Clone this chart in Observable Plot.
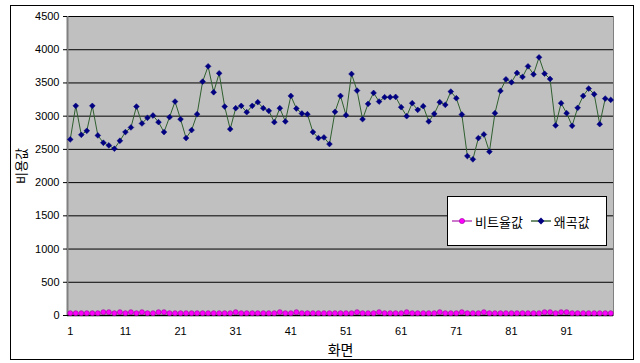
<!DOCTYPE html>
<html>
<head>
<meta charset="utf-8">
<script src="https://cdn.jsdelivr.net/npm/d3@7"></script>
<script src="https://cdn.jsdelivr.net/npm/@observablehq/plot@0.6"></script>
<style>
  body { margin: 0; background: #fff; }
  #chart { position: relative; width: 640px; height: 363px; }
  #chart svg { position: absolute; left: 0; top: 0; }
  #border { position: absolute; left: 10px; top: 5px; width: 624px; height: 355px; border: 1px solid #000; box-sizing: border-box; pointer-events: none; }
  #legend { position: absolute; left: 447px; top: 196px; width: 160px; height: 50px; box-sizing: border-box;
            background: #fff; border: 1px solid #000; display: flex; align-items: center; padding-left: 4px;
            font-family: "Noto Sans CJK KR", sans-serif; font-size: 13px; color: #000; }
  #legend .item { display: flex; align-items: center; margin-right: 8px; }
  #legend svg { position: static; margin-right: 3px; }
</style>
</head>
<body>
<div id="chart"><div id="border"></div></div>
<script>
// Frame numbers along the x axis
const frames = Array.from({length: 99}, (_, i) => i + 1);

// Distortion per frame (왜곡값)
const distortion = [
  2650, 3155, 2720, 2780, 3155, 2710, 2600, 2560, 2510, 2630,
  2760, 2830, 3145, 2890, 2975, 3010, 2910, 2760, 2985, 3220,
  2955, 2670, 2790, 3030, 3520, 3750, 3360, 3645, 3145, 2805,
  3120, 3155, 3060, 3155, 3210, 3120, 3080, 2910, 3120, 2920,
  3305, 3115, 3040, 3030, 2760, 2670, 2680, 2580, 3065, 3305,
  3015, 3635, 3385, 2955, 3185, 3350, 3220, 3285, 3285, 3290,
  3135, 3000, 3195, 3095, 3150, 2920, 3035, 3210, 3170, 3370,
  3270, 3025, 2400, 2350, 2670, 2725, 2465, 3045, 3380, 3555,
  3510, 3650, 3590, 3750, 3630, 3885, 3640, 3560, 2860, 3195,
  3045, 2855, 3125, 3305, 3415, 3330, 2880, 3265, 3245
];

// Bit rate per frame (비트율값)
const bitrate = [
  35, 35, 35, 35, 35, 35, 50, 50, 35, 50,
  35, 50, 35, 50, 35, 35, 50, 50, 35, 35,
  35, 35, 35, 35, 35, 35, 35, 35, 35, 35,
  50, 35, 35, 35, 35, 35, 35, 35, 50, 35,
  35, 50, 35, 35, 35, 35, 35, 35, 35, 35,
  35, 35, 50, 35, 35, 35, 50, 35, 35, 35,
  35, 50, 35, 35, 35, 35, 35, 50, 35, 35,
  35, 50, 35, 35, 35, 50, 35, 35, 35, 35,
  35, 35, 35, 35, 35, 35, 50, 50, 35, 50,
  50, 35, 35, 35, 35, 35, 35, 35, 35
];

const xTicks = [1, 11, 21, 31, 41, 51, 61, 71, 81, 91];
const yTicks = [0, 500, 1000, 1500, 2000, 2500, 3000, 3500, 4000, 4500];

const seriesNames = ["비트율값", "왜곡값"];
const lineColors = ["#cc77cc", "#2f5f2f"];
const markerColors = ["#ff00ff", "#000080"];

const distRows = frames.map((f, i) => ({frame: f, value: distortion[i]}));
const rateRows = frames.map((f, i) => ({frame: f, value: bitrate[i]}));

const chart = Plot.plot({
  width: 640,
  height: 363,
  marginLeft: 67,
  marginRight: 27,
  marginTop: 16,
  marginBottom: 48,
  style: {fontFamily: "'Liberation Sans', Arial, sans-serif", fontSize: "11px", background: "transparent", color: "#000"},
  x: {domain: [0.5, 99.5]},
  y: {domain: [0, 4500]},
  marks: [
    Plot.frame({fill: "#c0c0c0", stroke: "#808080"}),
    Plot.gridY(yTicks, {stroke: "#000", strokeOpacity: 1, strokeWidth: 1}),
    Plot.ruleX([0.5], {stroke: "#808080", strokeWidth: 2}),
    Plot.ruleY([0], {stroke: "#000", strokeWidth: 1.5}),
    Plot.axisY(yTicks, {tickSize: 4, tickPadding: 4, tickFormat: d => String(d), label: null, fontSize: 11}),
    Plot.axisX(xTicks, {tickSize: 0, tickPadding: 12, tickFormat: d => String(d), label: null}),
    Plot.line(rateRows, {x: "frame", y: "value", stroke: lineColors[0], strokeWidth: 1}),
    Plot.dot(rateRows, {x: "frame", y: "value", r: 2.5, fill: markerColors[0], stroke: "#990099", strokeWidth: 0.6}),
    Plot.line(distRows, {x: "frame", y: "value", stroke: lineColors[1], strokeWidth: 1}),
    Plot.dot(distRows, {x: "frame", y: "value", symbol: "diamond2", r: 2.6, fill: markerColors[1], stroke: markerColors[1], strokeWidth: 0.5}),
    // axis titles
    Plot.text(["화면"], {frameAnchor: "bottom", dy: 35, fontFamily: "'Noto Sans CJK KR', sans-serif", fontSize: 14, lineAnchor: "middle"}),
    Plot.text(["비용값"], {frameAnchor: "left", dx: -46, rotate: -90, textAnchor: "middle", fontFamily: "'Noto Sans CJK KR', sans-serif", fontSize: 13, lineAnchor: "middle"})
  ]
});

const root = document.getElementById("chart");
root.insertBefore(chart, root.firstChild);

// Legend
const legend = document.createElement("div");
legend.id = "legend";
seriesNames.forEach((name, i) => {
  const item = document.createElement("div");
  item.className = "item";
  const sw = d3.create("svg").attr("width", 20).attr("height", 8);
  sw.append("line").attr("x1", 0).attr("x2", 20).attr("y1", 4).attr("y2", 4)
    .attr("stroke", i === 0 ? lineColors[0] : "#6f8f6f").attr("stroke-width", 2);
  if (i === 0) {
    sw.append("circle").attr("cx", 10).attr("cy", 4).attr("r", 2.6).attr("fill", markerColors[0]).attr("stroke", "#990099").attr("stroke-width", 0.6);
  } else {
    sw.append("path").attr("d", d3.symbol(d3.symbolDiamond2, 30)()).attr("transform", "translate(10,4)").attr("fill", markerColors[1]);
  }
  item.appendChild(sw.node());
  const t = document.createElement("span");
  t.textContent = name;
  item.appendChild(t);
  legend.appendChild(item);
});
root.appendChild(legend);
</script>
</body>
</html>
